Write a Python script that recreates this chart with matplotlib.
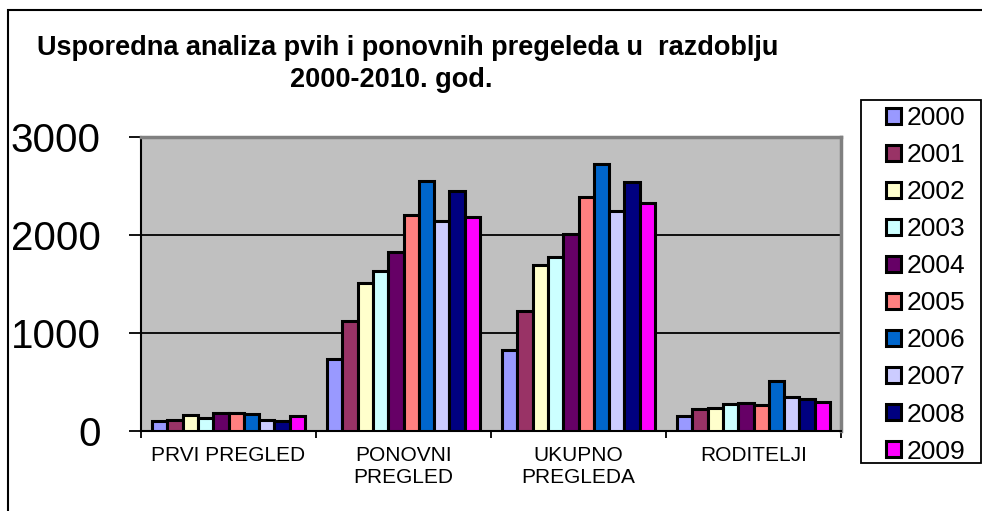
import matplotlib
matplotlib.use("Agg")
import matplotlib.pyplot as plt
import numpy as np
from matplotlib.patches import Rectangle

plt.rcParams['font.family'] = ['Liberation Sans', 'DejaVu Sans']

categories = ["PRVI PREGLED", "PONOVNI\nPREGLED", "UKUPNO\nPREGLEDA", "RODITELJI"]
years = ["2000", "2001", "2002", "2003", "2004", "2005", "2006", "2007", "2008", "2009"]
prvi = [95, 112, 162, 132, 182, 182, 165, 105, 97, 145]
ponovni = [730, 1122, 1510, 1633, 1825, 2200, 2555, 2146, 2453, 2180]
ukupno = [822, 1224, 1692, 1771, 2009, 2385, 2727, 2248, 2545, 2330]
roditelji = [148, 223, 234, 275, 285, 264, 503, 342, 322, 291]
colors = ["#9999FF", "#993366", "#FFFFCC", "#CCFFFF", "#660066",
          "#FF8080", "#0066CC", "#CCCCFF", "#000080", "#FF00FF"]

values = np.array([prvi, ponovni, ukupno, roditelji]).T  # years x categories

W, H = 982, 511
fig = plt.figure(figsize=(W / 100, H / 100), dpi=100)
ax = fig.add_axes([141 / W, 1 - 430.5 / H, 700 / W, (430.5 - 137) / H])
ax.set_facecolor("#C0C0C0")

n = len(years)
bw = 0.0875
x = np.arange(len(categories))
bars = []
for i, yr in enumerate(years):
    offs = (i - (n - 1) / 2) * bw
    b = ax.bar(x + offs, values[i], width=bw, color=colors[i], edgecolor="black",
               linewidth=2.2, label=yr, zorder=3)
    bars.append(b)

ax.set_xlim(-0.5, len(categories) - 0.5)
ax.set_ylim(0, 3000)
ax.set_yticks([0, 1000, 2000, 3000])
ax.set_yticklabels(["0", "1000", "2000", "3000"], fontsize=29)
ax.yaxis.grid(True, color="black", linewidth=1.3, zorder=1)
ax.set_axisbelow(True)
ax.tick_params(axis="y", direction="out", length=9, width=1.3, pad=20)

ax.set_xticks(x)
ax.set_xticklabels(categories, fontsize=15, linespacing=1.2)
ax.set_xticks(np.arange(len(categories) + 1) - 0.5, minor=True)
ax.tick_params(axis="x", which="major", length=0, pad=11)
ax.tick_params(axis="x", which="minor", direction="out", length=5, width=1.3)

for s in ["top", "right"]:
    ax.spines[s].set_color("#808080")
    ax.spines[s].set_linewidth(2.5)
for s in ["left", "bottom"]:
    ax.spines[s].set_color("black")
    ax.spines[s].set_linewidth(1.5)

# Title
fig.text(408 / W, 1 - 55 / H, "Usporedna analiza pvih i ponovnih pregeleda u  razdoblju",
         ha="center", va="baseline", fontsize=19.5, fontweight="bold")
fig.text(391 / W, 1 - 87 / H, "2000-2010. god.",
         ha="center", va="baseline", fontsize=19.5, fontweight="bold")

# Legend (frame drawn separately)
leg = fig.legend(handles=[b[0] for b in bars], labels=years,
                 loc="upper left", bbox_to_anchor=(886 / W, 1 - 106 / H),
                 bbox_transform=fig.transFigure,
                 fontsize=19, frameon=False,
                 handlelength=0.55, handleheight=0.55,
                 handletextpad=0.25, labelspacing=0.495, borderpad=0,
                 borderaxespad=0)
fig.add_artist(Rectangle((861 / W, 1 - 463 / H), 120 / W, 363 / H, transform=fig.transFigure,
                         fill=True, facecolor="white", edgecolor="black", linewidth=1.3,
                         zorder=0.5))

# Outer chart border
fig.add_artist(Rectangle((8 / W, -0.1), 1.2, 1 - 10 / H + 0.1, transform=fig.transFigure,
                         fill=False, edgecolor="black", linewidth=1.5))

fig.savefig("out.png", dpi=100)
